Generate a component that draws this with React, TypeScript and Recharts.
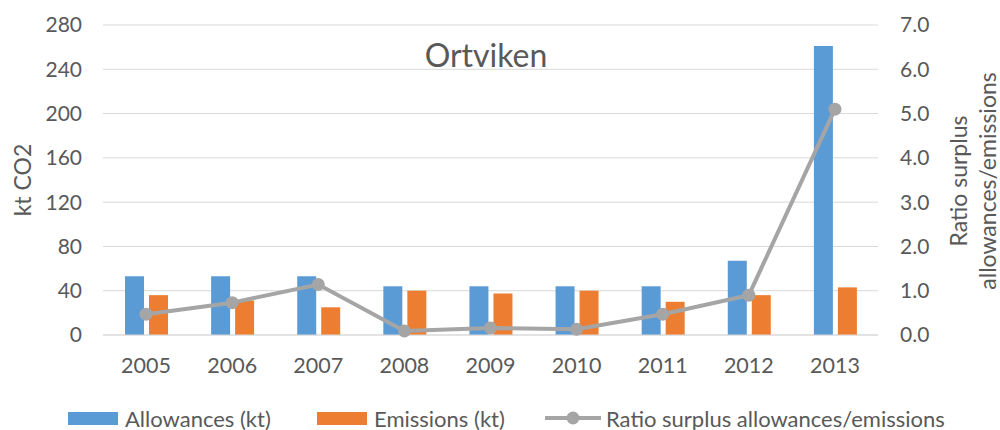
import {
  ComposedChart,
  Bar,
  Line,
  CartesianGrid,
  XAxis,
  YAxis,
  Legend,
} from "recharts"

const years = ["2005", "2006", "2007", "2008", "2009", "2010", "2011", "2012", "2013"]
const allowances = [53, 53, 53, 44, 44, 44, 44, 67, 261]
const emissions = [36, 31, 25, 40, 37.5, 40, 30, 36, 43]
const ratio = [0.47, 0.73, 1.14, 0.09, 0.16, 0.13, 0.47, 0.9, 5.1]
const leftTicks = [0, 40, 80, 120, 160, 200, 240, 280]
const rightTicks = [0, 1, 2, 3, 4, 5, 6, 7]

const BLUE = "#5B9BD5"
const ORANGE = "#ED7D31"
const GRAY = "#A5A5A5"
const TEXT = "#595959"
const FONT = "Lato, 'Open Sans', sans-serif"

const data = years.map((year, i) => ({
  year,
  allowances: allowances[i],
  emissions: emissions[i],
  ratio: ratio[i],
}))

const legendItems = [
  { label: "Allowances (kt)", color: BLUE, kind: "box", left: 68 },
  { label: "Emissions (kt)", color: ORANGE, kind: "box", left: 317 },
  { label: "Ratio surplus allowances/emissions", color: GRAY, kind: "line", left: 545 },
]

function ChartLegend() {
  return (
    <div style={{ position: "relative", height: 45, width: 1000, fontFamily: FONT, fontSize: 22, color: TEXT }}>
      {legendItems.map((item) => (
        <div
          key={item.label}
          style={{ position: "absolute", left: item.left, top: 22, height: 22, display: "flex", alignItems: "center", whiteSpace: "nowrap" }}
        >
          {item.kind === "box" ? (
            <span style={{ display: "inline-block", width: 50, height: 13, background: item.color, marginRight: 7 }} />
          ) : (
            <svg width={56} height={14} style={{ marginRight: 5 }}>
              <line x1={0} y1={7} x2={56} y2={7} stroke={item.color} strokeWidth={4} />
              <circle cx={28} cy={7} r={6.5} fill={item.color} />
            </svg>
          )}
          <span>{item.label}</span>
        </div>
      ))}
    </div>
  )
}

export default function App() {
  return (
    <div style={{ position: "absolute", left: 0, top: 0, width: 1000, height: 430, background: "#fff" }}>
      <ComposedChart
        width={1000}
        height={430}
        data={data}
        margin={{ top: 25, right: 0, bottom: 0, left: 0 }}
        barGap={5}
        barCategoryGap="25%"
      >
        <CartesianGrid yAxisId="left" vertical={false} stroke="#D9D9D9" />
        <XAxis
          dataKey="year"
          height={50}
          axisLine={{ stroke: "#D9D9D9" }}
          tickLine={false}
          tickMargin={17}
          tick={{ fill: TEXT, fontSize: 21.5, fontFamily: FONT }}
        />
        <YAxis
          yAxisId="left"
          width={103}
          domain={[0, 280]}
          ticks={leftTicks}
          axisLine={false}
          tickLine={false}
          tickMargin={15}
          tick={{ fill: TEXT, fontSize: 21, fontFamily: FONT }}
          label={() => (
            <text
              x={22}
              y={180}
              transform="rotate(-90 22 180)"
              textAnchor="middle"
              dominantBaseline="central"
              fill={TEXT}
              fontSize={23}
              fontFamily={FONT}
            >
              kt CO2
            </text>
          )}
        />
        <YAxis
          yAxisId="right"
          orientation="right"
          width={122}
          domain={[0, 7]}
          ticks={rightTicks}
          axisLine={false}
          tickLine={false}
          tickMargin={16}
          tickFormatter={(v: number) => v.toFixed(1)}
          tick={{ fill: TEXT, fontSize: 21, fontFamily: FONT, textAnchor: "start" }}
          label={() => (
            <text
              x={958}
              y={181}
              transform="rotate(-90 958 181)"
              textAnchor="middle"
              dominantBaseline="central"
              fill={TEXT}
              fontSize={23}
              fontFamily={FONT}
            >
              <tspan x={958} dy={0}>Ratio surplus</tspan>
              <tspan x={958} dy={29}>allowances/emissions</tspan>
            </text>
          )}
        />
        <Bar yAxisId="left" dataKey="allowances" name="Allowances (kt)" fill={BLUE} barSize={19} isAnimationActive={false} />
        <Bar yAxisId="left" dataKey="emissions" name="Emissions (kt)" fill={ORANGE} barSize={19} isAnimationActive={false} />
        <Line
          yAxisId="right"
          dataKey="ratio"
          name="Ratio surplus allowances/emissions"
          type="linear"
          stroke={GRAY}
          strokeWidth={4}
          dot={{ r: 6.5, fill: GRAY, stroke: GRAY, strokeWidth: 0 }}
          isAnimationActive={false}
        />
        <Legend verticalAlign="bottom" content={() => <ChartLegend />} />
        <text
          x={486}
          y={54}
          textAnchor="middle"
          dominantBaseline="central"
          fill={TEXT}
          fontSize={32}
          fontFamily={FONT}
        >
          Ortviken
        </text>
      </ComposedChart>
    </div>
  )
}
